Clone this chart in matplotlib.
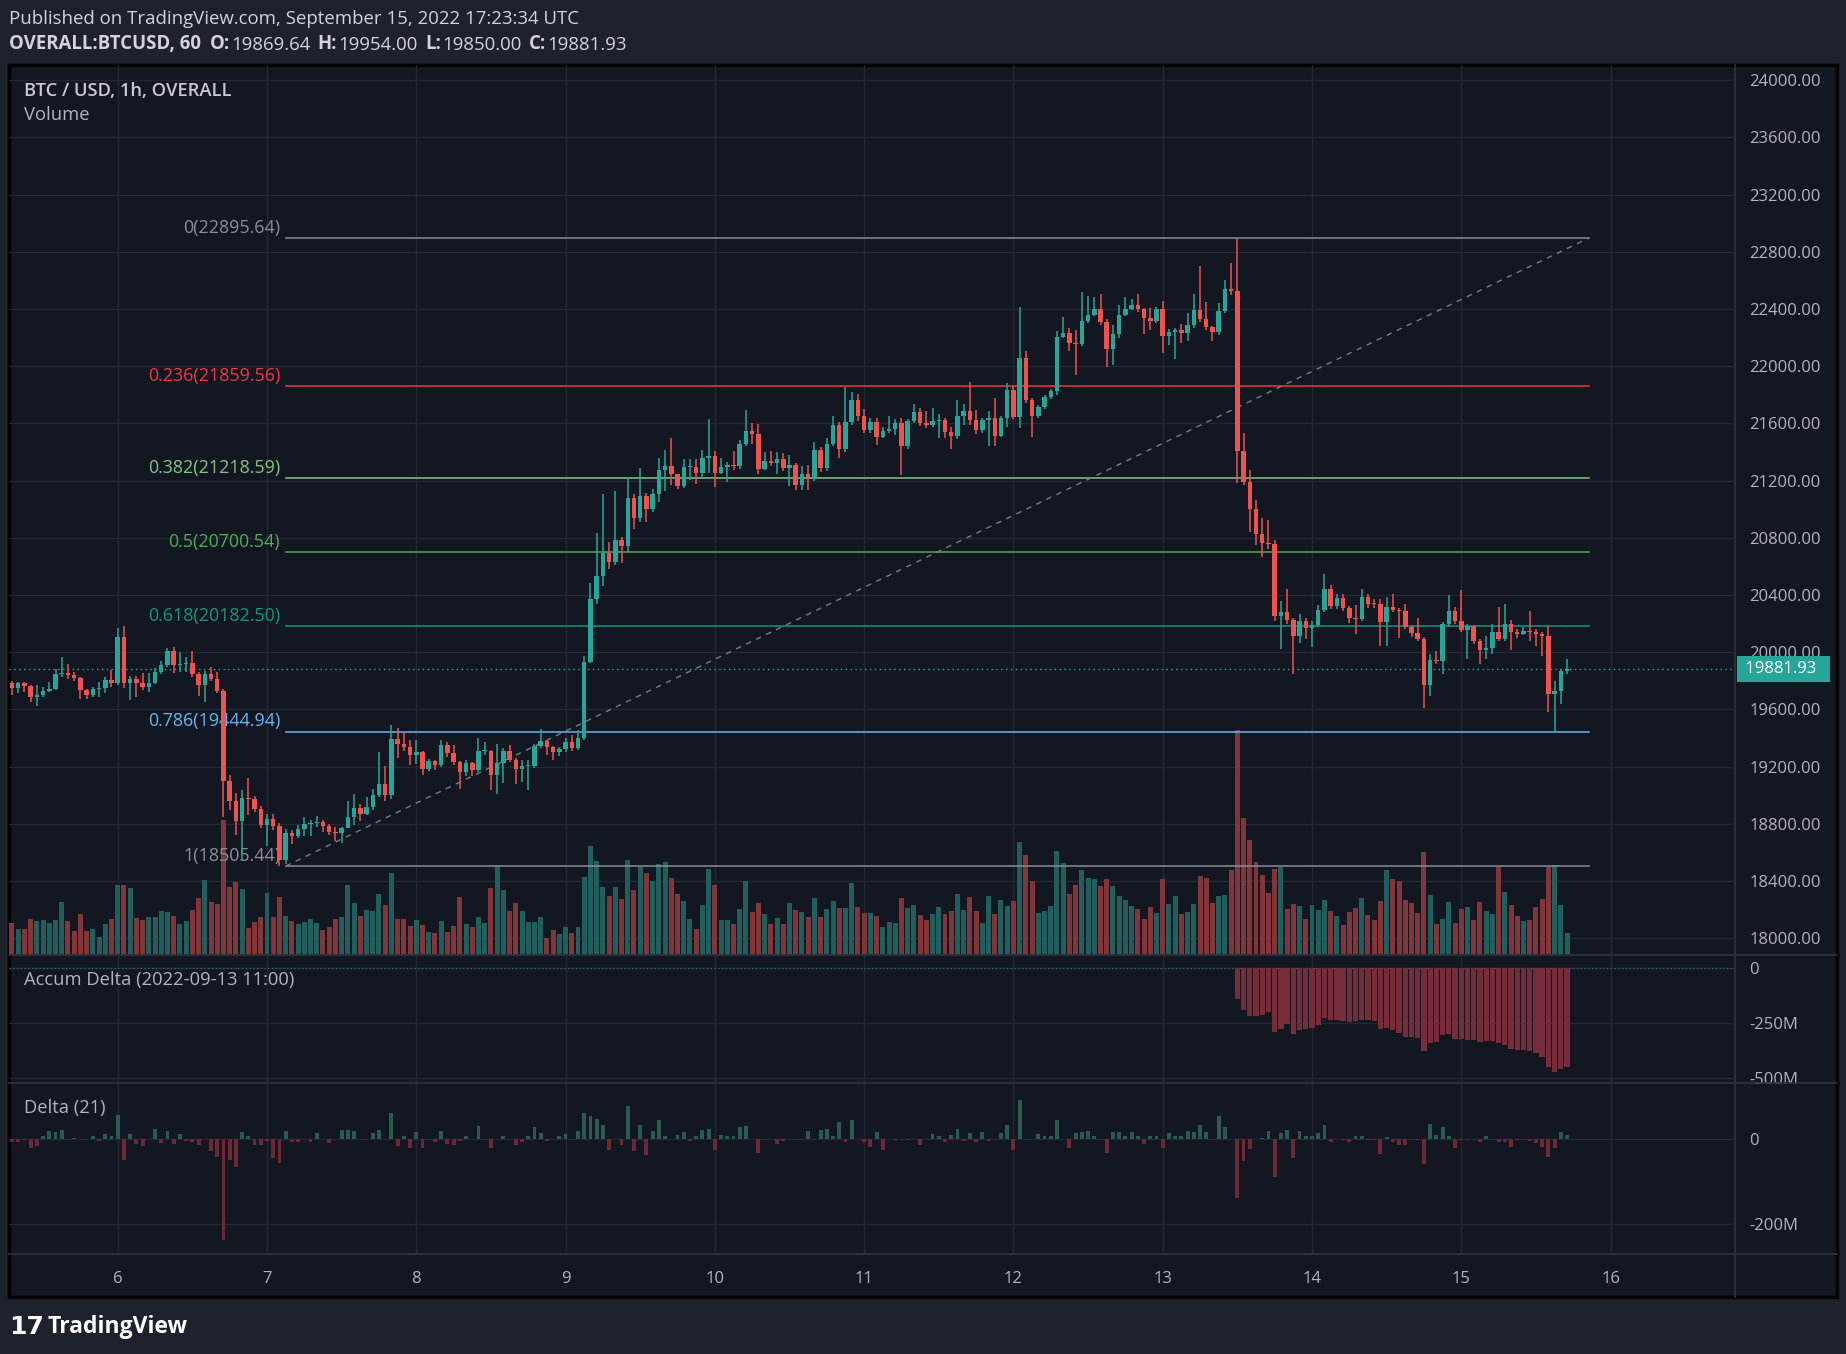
import numpy as np
import matplotlib.pyplot as plt
from matplotlib.patches import Rectangle
from matplotlib.lines import Line2D
import matplotlib.transforms as mtransforms

plt.rcParams['font.family'] = ['Open Sans', 'DejaVu Sans']

# OVERALL:BTCUSD 1h candles, first one Sep 5 07:00 (hour -17 counted from Sep 6 00:00)
first_hour = -17
first_open = 19786
close_px = [
    19751, 19784, 19763, 19689, 19703, 19728, 19742, 19847, 19856, 19840,
    19821, 19735, 19703, 19742, 19751, 19803, 19786, 20108, 19786, 19812,
    19782, 19758, 19786, 19859, 19910, 20008, 19910, 19915, 19922, 19851,
    19770, 19847, 19812, 19731, 19101, 18959, 18819, 18982, 18973, 18903,
    18791, 18833, 18784, 18546, 18740, 18716, 18763, 18798, 18805, 18812,
    18786, 18744, 18737, 18770, 18847, 18910, 18868, 18917, 19001, 19078,
    19000, 19392, 19357, 19336, 19280, 19301, 19183, 19238, 19211, 19350,
    19294, 19231, 19162, 19224, 19176, 19308, 19310, 19141, 19225, 19308,
    19246, 19183, 19204, 19206, 19343, 19378, 19336, 19306, 19322, 19371,
    19329, 19399, 19935, 20372, 20532, 20697, 20632, 20784, 20744, 21078,
    20940, 21092, 21000, 21106, 21273, 21301, 21245, 21161, 21294, 21297,
    21252, 21357, 21371, 21252, 21294, 21308, 21301, 21455, 21546, 21525,
    21280, 21336, 21322, 21350, 21287, 21308, 21168, 21245, 21217, 21413,
    21287, 21455, 21588, 21420, 21609, 21763, 21651, 21553, 21609, 21506,
    21545, 21559, 21601, 21443, 21615, 21678, 21601, 21587, 21615, 21622,
    21538, 21510, 21650, 21685, 21622, 21552, 21622, 21636, 21510, 21635,
    21833, 21646, 22055, 21763, 21653, 21714, 21784, 21826, 22207, 22235,
    22165, 22157, 22317, 22359, 22400, 22312, 22118, 22225, 22359, 22400,
    22428, 22400, 22340, 22318, 22400, 22211, 22237, 22253, 22230, 22288,
    22393, 22330, 22277, 22242, 22387, 22541, 22527, 21406, 21191, 21002,
    20829, 20764, 20760, 20252, 20285, 20226, 20112, 20222, 20168, 20194,
    20299, 20444, 20322, 20381, 20309, 20238, 20236, 20383, 20339, 20337,
    20210, 20313, 20299, 20287, 20175, 20133, 20096, 19774, 19946, 19937,
    20199, 20292, 20222, 20156, 20185, 20082, 20019, 20033, 20145, 20094,
    20201, 20145, 20126, 20152, 20145, 20126, 20112, 19709, 19731, 19869.64,
    19881.93,
]
high_px = [
    19800, 19795, 19790, 19770, 19770, 19759, 19793, 19882, 19968, 19917,
    19860, 19830, 19745, 19760, 19793, 19824, 19875, 20173, 20183, 19833,
    19833, 19856, 19852, 19891, 19940, 20031, 20038, 20003, 19968, 20010,
    19865, 19870, 19898, 19863, 19745, 19141, 19017, 19036, 19120, 18994,
    18924, 18868, 18868, 18805, 18765, 18756, 18791, 18849, 18826, 18856,
    18826, 18800, 18779, 18782, 18959, 19008, 18942, 18989, 19043, 19301,
    19204, 19490, 19469, 19437, 19385, 19385, 19310, 19257, 19250, 19385,
    19371, 19350, 19240, 19250, 19230, 19404, 19374, 19320, 19362, 19330,
    19350, 19260, 19250, 19246, 19360, 19462, 19390, 19345, 19340, 19404,
    19420, 19460, 19972, 20487, 20835, 21105, 20769, 21126, 20807, 21226,
    21105, 21287, 21110, 21140, 21357, 21413, 21497, 21245, 21350, 21350,
    21350, 21413, 21630, 21406, 21357, 21329, 21406, 21483, 21693, 21602,
    21595, 21399, 21406, 21399, 21392, 21378, 21320, 21301, 21308, 21469,
    21434, 21497, 21651, 21609, 21854, 21819, 21805, 21700, 21640, 21639,
    21576, 21650, 21629, 21641, 21630, 21734, 21706, 21685, 21706, 21664,
    21636, 21573, 21762, 21734, 21888, 21692, 21640, 21685, 21776, 21650,
    21880, 21860, 22412, 22106, 21775, 21730, 21800, 21840, 22249, 22342,
    22265, 22254, 22515, 22492, 22482, 22506, 22330, 22289, 22429, 22482,
    22468, 22506, 22410, 22410, 22417, 22457, 22260, 22270, 22293, 22375,
    22506, 22697, 22452, 22280, 22445, 22604, 22720, 22895.64, 21530, 21273,
    21067, 20941, 20927, 20787, 20357, 20444, 20240, 20269, 20240, 20220,
    20327, 20544, 20467, 20409, 20404, 20320, 20327, 20444, 20409, 20370,
    20370, 20386, 20404, 20310, 20334, 20190, 20243, 20110, 19990, 20007,
    20210, 20397, 20315, 20432, 20200, 20190, 20090, 20115, 20198, 20315,
    20339, 20229, 20160, 20180, 20287, 20160, 20140, 20185, 19800, 19880,
    19954,
]
low_px = [
    19700, 19712, 19724, 19654, 19626, 19690, 19720, 19735, 19828, 19810,
    19800, 19672, 19672, 19689, 19689, 19717, 19759, 19770, 19750, 19665,
    19689, 19735, 19724, 19780, 19845, 19895, 19856, 19863, 19863, 19830,
    19693, 19654, 19800, 19715, 18849, 18896, 18721, 18546, 18861, 18880,
    18775, 18644, 18756, 18505.44, 18520, 18658, 18700, 18714, 18714, 18779,
    18744, 18720, 18679, 18668, 18770, 18791, 18819, 18860, 18900, 18990,
    18960, 18975, 19260, 19310, 19213, 19222, 19145, 19170, 19180, 19200,
    19270, 19210, 19047, 19134, 19134, 19160, 19280, 19040, 19012, 19089,
    19230, 19082, 19092, 19040, 19190, 19330, 19280, 19245, 19276, 19300,
    19310, 19320, 19390, 19925, 20340, 20464, 20581, 20610, 20625, 20700,
    20860, 20912, 20912, 20980, 21052, 21130, 21168, 21138, 21150, 21203,
    21175, 21215, 21250, 21157, 21245, 21189, 21273, 21280, 21440, 21455,
    21245, 21273, 21300, 21245, 21270, 21161, 21133, 21133, 21133, 21200,
    21260, 21270, 21440, 21357, 21400, 21590, 21620, 21532, 21530, 21448,
    21499, 21534, 21517, 21238, 21420, 21600, 21580, 21566, 21575, 21496,
    21496, 21420, 21490, 21587, 21587, 21524, 21531, 21440, 21440, 21506,
    21576, 21630, 21570, 21740, 21506, 21640, 21700, 21770, 21798, 22200,
    22109, 21938, 22140, 22300, 22350, 22290, 21997, 22008, 22200, 22350,
    22390, 22380, 22225, 22254, 22300, 22095, 22148, 22053, 22160, 22179,
    22270, 22310, 22250, 22179, 22220, 22370, 22500, 21180, 21168, 20841,
    20748, 20666, 20724, 20217, 20024, 20200, 19848, 20063, 20093, 20035,
    20180, 20280, 20300, 20300, 20290, 20203, 20128, 20220, 20310, 20310,
    20047, 20042, 20280, 20101, 20160, 20110, 20080, 19608, 19697, 19920,
    19849, 20180, 20200, 20140, 19953, 20060, 19918, 19953, 19989, 20080,
    20080, 20017, 20100, 20120, 20082, 20045, 19972, 19584, 19440, 19638,
    19850,
]
# volume, arbitrary units (bar heights)
volume = [
    93, 75, 75, 105, 99, 102, 93, 102, 156, 99,
    69, 120, 69, 75, 51, 90, 105, 207, 207, 198,
    108, 102, 111, 111, 129, 126, 114, 90, 99, 132,
    168, 222, 156, 150, 400, 201, 216, 195, 78, 96,
    111, 183, 111, 171, 114, 99, 90, 96, 105, 93,
    72, 81, 105, 111, 207, 153, 114, 132, 129, 180,
    147, 243, 105, 105, 84, 102, 87, 66, 63, 99,
    66, 84, 171, 90, 81, 111, 93, 198, 267, 192,
    129, 153, 129, 96, 96, 111, 48, 72, 60, 81,
    63, 81, 231, 324, 279, 201, 174, 201, 165, 282,
    192, 261, 243, 219, 270, 276, 228, 180, 159, 105,
    75, 147, 255, 207, 102, 102, 90, 135, 219, 126,
    153, 120, 90, 108, 90, 153, 132, 126, 111, 168,
    111, 135, 159, 138, 138, 213, 141, 123, 123, 114,
    81, 96, 93, 168, 138, 147, 117, 102, 120, 141,
    120, 129, 180, 132, 171, 129, 93, 174, 120, 162,
    144, 159, 336, 297, 219, 123, 129, 144, 309, 273,
    180, 207, 252, 228, 225, 204, 225, 204, 174, 162,
    144, 135, 105, 141, 123, 225, 150, 174, 120, 126,
    150, 234, 228, 153, 174, 177, 252, 671, 406, 342,
    276, 237, 183, 255, 261, 135, 150, 144, 105, 147,
    132, 162, 129, 114, 87, 126, 138, 168, 117, 102,
    159, 252, 225, 219, 162, 153, 123, 306, 177, 90,
    105, 156, 93, 135, 141, 102, 156, 129, 120, 261,
    186, 147, 114, 99, 102, 141, 165, 261, 267, 147,
    63,
]
# Delta (21), millions
delta = [
    -8, -8, -4, -22, -17, 5, 17, 15, 19, -2,
    2, -2, 0, 5, -5, 10, 6, 54, -50, 10,
    -12, -17, -2, 22, -11, 17, -12, 10, -5, -9,
    -14, 0, -29, -43, -235, -51, -66, 15, 5, -14,
    -14, -5, -45, -56, 17, -9, -9, -2, -9, 12,
    0, -11, 0, 19, 19, 17, -1, 0, 12, 19,
    0, 59, -17, 6, -21, 15, -21, 0, -7, 17,
    -12, -15, -5, 5, -2, 29, 0, -21, 0, 5,
    0, -14, -9, 5, 26, 12, -5, 0, 6, 10,
    0, 17, 59, 53, 45, 32, -26, 0, -14, 75,
    -29, 32, -38, 17, 44, 5, 0, 9, 15, -5,
    6, 21, 23, -26, 9, 6, 5, 28, 29, 0,
    -33, 0, -1, -12, -5, -1, 0, 0, 17, 0,
    19, 23, 6, 39, -9, 42, 0, -9, -19, 15,
    -26, 0, -3, 0, -3, 0, -15, -2, 10, 5,
    -7, 9, 22, -5, 12, -7, 15, -5, 0, 12,
    32, -26, 89, -1, 0, 10, 5, 5, 44, 0,
    -21, 12, 15, 17, 6, 0, -34, 15, 15, 6,
    15, 5, -12, 5, 5, -23, 12, 5, 6, 17,
    15, 32, 15, 0, 52, 26, 0, -138, -53, -25,
    0, 2, 17, -90, 12, 21, -45, 18, 5, 7,
    12, 31, -8, 0, -4, -8, 5, 7, -3, -4,
    -35, 4, -7, -15, -16, -1, -3, -59, 33, 8,
    28, 7, -22, -3, -3, 0, -9, 5, -2, -9,
    -7, -20, -3, 0, -5, -10, -19, -42, -23, 15,
    8,
]
# Accum Delta anchored 2022-09-13 11:00, millions
accum_start_hour = 180
accum_delta = [
    -139, -192, -217, -217, -215, -198, -288, -276, -255, -300,
    -282, -277, -270, -258, -227, -235, -235, -239, -247, -242,
    -235, -238, -242, -277, -273, -280, -295, -311, -312, -315,
    -374, -341, -333, -305, -298, -320, -323, -326, -326, -335,
    -330, -332, -341, -348, -368, -371, -371, -376, -386, -405,
    -447, -470, -455, -447,
]
assert len(close_px) == len(high_px) == len(low_px) == len(volume) == len(delta) == 251

fib_levels = [0, 0.236, 0.382, 0.5, 0.618, 0.786, 1]
fib_prices = [22895.64, 21859.56, 21218.59, 20700.54, 20182.50, 19444.94, 18505.44]
fib_colors = ['#8b8e97', '#f23645', '#81c784', '#4caf50', '#089981', '#64b5f6', '#8b8e97']
fib_start_hour, fib_end_hour = 27, 236.5

day_labels = ['6', '7', '8', '9', '10', '11', '12', '13', '14', '15', '16']
price_ticks = list(range(18000, 24001, 400))
last_price = close_px[-1]

BG = '#131722'
OUTER = '#1e222d'
GRID = '#232733'
SEP = '#2f333e'
TXT = '#b2b5be'
UP, DOWN = '#26a69a', '#ef5350'
VOL_UP, VOL_DOWN = '#1f605e', '#82363a'
D_UP, D_DOWN = '#2b5b4e', '#6c2934'
ACC = '#772c39'

# layout grid in reference pixels
W, H = 1568, 1150
def rect(x0, y0, x1, y1):
    return [x0 / W, 1 - y1 / H, (x1 - x0) / W, (y1 - y0) / H]

hours = np.arange(len(close_px)) + first_hour
c = np.array(close_px, dtype=float)
o = np.r_[first_open, c[:-1]]
hi = np.maximum(np.array(high_px, dtype=float), np.maximum(o, c))
lo = np.minimum(np.array(low_px, dtype=float), np.minimum(o, c))
up = c >= o
day_hours = [(int(d) - 6) * 24 for d in day_labels]
XLIM = (-17.41, 260.06)

fig = plt.figure(figsize=(18.46, 13.54), dpi=100)
fig.patch.set_facecolor(OUTER)
fig.add_artist(Rectangle((8 / W, 1 - 1102 / H), 1552 / W, 1047 / H, transform=fig.transFigure,
                         facecolor=BG, edgecolor='#000000', lw=2.5, zorder=-5))

ax_bg = fig.add_axes([0, 0, 1, 1])
ax_bg.set_axis_off()
ax_bg.set_xlim(0, W)
ax_bg.set_ylim(H, 0)

# header
ax_bg.text(8, 16, 'Published on TradingView.com, September 15, 2022 17:23:34 UTC',
           color='#d1d4dc', fontsize=13.4, va='center', ha='left')
pieces = [('O:', 'bold', 6), ('%.2f' % o[-1], 'normal', 1), ('H:', 'bold', 5), ('%.2f' % hi[-1], 'normal', 1),
          ('L:', 'bold', 5), ('%.2f' % lo[-1], 'normal', 1), ('C:', 'bold', 5), ('%.2f' % c[-1], 'normal', 1)]
t = ax_bg.text(8, 37, 'OVERALL:BTCUSD, 60', color='#d1d4dc', fontsize=13.4, weight='bold', va='center')
for s, w, gap in pieces:
    t = ax_bg.annotate(s, xy=(1, 0), xycoords=t, xytext=(gap, 0), textcoords='offset points',
                       color='#d1d4dc', fontsize=13.4, weight=w, va='bottom', ha='left')

# logo
ax_bg.text(8, 1127, '17', color='white', fontsize=18, weight='heavy', va='center', family='DejaVu Sans')
ax_bg.text(40, 1127, 'TradingView', color='white', fontsize=16.5, weight='bold', va='center')

# panes
ax = fig.add_axes(rect(8, 55, 1474, 810))
ax_a = fig.add_axes(rect(8, 811, 1474, 920), sharex=ax)
ax_d = fig.add_axes(rect(8, 920, 1474, 1065), sharex=ax)

for a in (ax, ax_a, ax_d):
    a.set_facecolor('none')
    for sp in a.spines.values():
        sp.set_visible(False)
    a.yaxis.tick_right()
    a.tick_params(axis='y', length=0, pad=10, labelcolor=TXT, labelsize=12)
    a.tick_params(axis='x', length=0, labelbottom=False)
    a.set_xticks(day_hours)
    a.grid(True, color=GRID, lw=1, zorder=0)
    a.set_axisbelow(True)

# volume (overlay, bottom of price pane)
vol_top = 2666.0
ax.bar(hours, np.array(volume) / vol_top, bottom=0, width=0.8,
       color=np.where(up, VOL_UP, VOL_DOWN), transform=ax.get_xaxis_transform(), zorder=1, lw=0)

# fib retracement
for lvl, p, col in zip(fib_levels, fib_prices, fib_colors):
    ax.plot([fib_start_hour, fib_end_hour], [p, p], color=col, lw=1.1, zorder=2)
    ax.annotate('%g(%.2f)' % (lvl, p), xy=(fib_start_hour, p), xytext=(-4, 7.5),
                textcoords='offset points', ha='right', va='center', color=col, fontsize=12.9, zorder=2)
ax.plot([fib_start_hour, fib_end_hour], [fib_prices[-1], fib_prices[0]], color='#787b86',
        lw=1, ls=(0, (4, 4)), zorder=2)

# last price line
ax.axhline(last_price, color=UP, lw=1, ls=(0, (1, 2.5)), zorder=2)

# candles
cols = np.where(up, UP, DOWN)
ax.vlines(hours, lo, hi, colors=cols, lw=1.1, zorder=3)
ax.bar(hours, np.maximum(np.abs(c - o), 7), bottom=np.minimum(o, c), width=0.72, color=cols, lw=0, zorder=4)

ax.set_xlim(*XLIM)
ax.set_ylim(17893, 24107)
ax.set_yticks(price_ticks)
ax.set_yticklabels(['%.2f' % v for v in price_ticks])
blend = mtransforms.blended_transform_factory(ax.transAxes, ax.transData)
ax.text(1 + 5 / 1466, last_price, ' %.2f  ' % last_price, transform=blend, ha='left', va='center',
        color='white', fontsize=12, clip_on=False, zorder=10,
        bbox=dict(boxstyle='square,pad=0.28', facecolor=UP, edgecolor='none'))
ax.text(12 / 1466, 1 - 22 / 755, 'BTC / USD, 1h, OVERALL', transform=ax.transAxes, color='#c7cad2',
        fontsize=13.2, weight='semibold', va='center')
ax.text(12 / 1466, 1 - 43 / 755, 'Volume', transform=ax.transAxes, color=TXT, fontsize=13.2, va='center')

# accum delta pane
acc_hours = np.arange(len(accum_delta)) + accum_start_hour
ax_a.axhline(0, color=UP, lw=0.9, ls=(0, (1, 2)), alpha=0.6, zorder=1)
ax_a.bar(acc_hours, accum_delta, width=0.85, color=ACC, lw=0, zorder=2)
ax_a.set_ylim(-521.3, 58.5)
ax_a.set_yticks([0, -250, -500])
ax_a.set_yticklabels(['0', '-250M', '-500M'])
ax_a.text(12 / 1466, 1 - 21 / 109, 'Accum Delta (2022-09-13 11:00)', transform=ax_a.transAxes,
          color=TXT, fontsize=13.2, va='center')

# delta pane
dv = np.array(delta, dtype=float)
ax_d.bar(hours, dv, width=0.62, color=np.where(dv >= 0, D_UP, D_DOWN), lw=0, zorder=2)
ax_d.set_ylim(-268.5, 128.8)
ax_d.set_yticks([0, -200])
ax_d.set_yticklabels(['0', '-200M'])
ax_d.tick_params(axis='x', labelbottom=True, labelcolor=TXT, labelsize=12, pad=12)
ax_d.set_xticklabels(day_labels)
ax_d.text(12 / 1466, 1 - 21 / 145, 'Delta (21)', transform=ax_d.transAxes, color=TXT, fontsize=13.2, va='center')

# separators
for y in (811, 920, 1065):
    ax_bg.add_line(Line2D([8, 1560], [y, y], color=SEP, lw=1.2, zorder=5))
ax_bg.add_line(Line2D([1474, 1474], [55, 1102], color=SEP, lw=1.2, zorder=5))
ax_bg.set_zorder(5)
ax_bg.patch.set_visible(False)

fig.savefig('out.png', dpi=100, facecolor=OUTER)
